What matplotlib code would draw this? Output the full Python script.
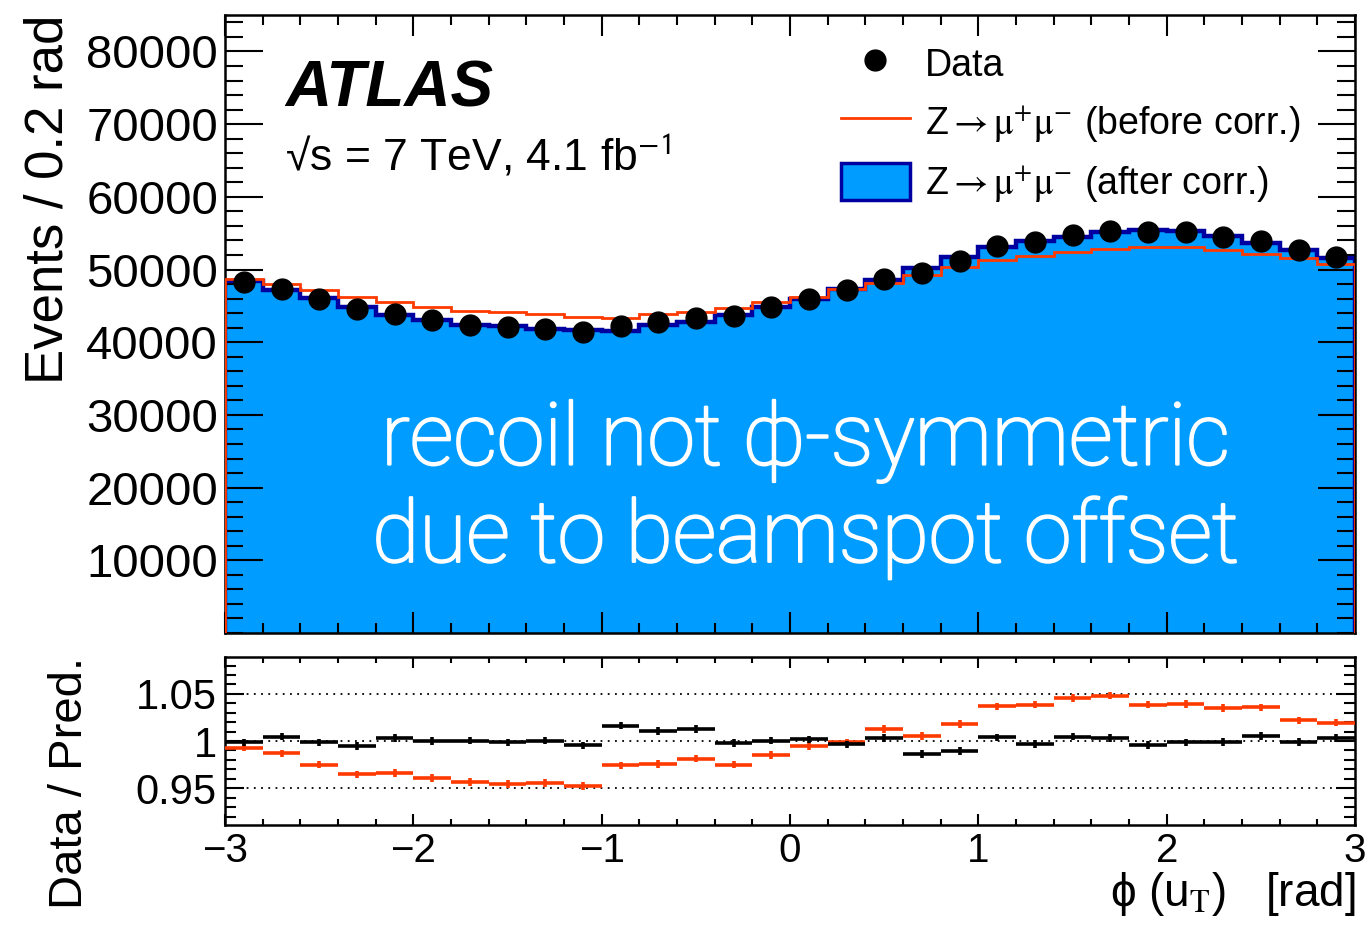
import numpy as np
import matplotlib
matplotlib.use('Agg')
import matplotlib.pyplot as plt
import matplotlib.patheffects as pe
from matplotlib.lines import Line2D
from matplotlib.patches import Patch
from matplotlib.ticker import MultipleLocator

plt.rcParams['font.family'] = ['Liberation Sans', 'DejaVu Sans']
plt.rcParams['mathtext.fontset'] = 'stix'

# bins in phi(u_T), 30 bins of 0.2 rad
edges = np.linspace(-3, 3, 31)
centers = 0.5*(edges[1:]+edges[:-1])

# data counts per bin
data = [48300, 47350, 45980, 44600, 43920, 43100, 42410, 42140, 41860, 41450,
        42270, 42820, 43370, 43640, 44880, 45980, 47210, 48720, 49550, 51190,
        53250, 53800, 54760, 55310, 55170, 55170, 54490, 53940, 52700, 51740]

# data / prediction, after correction (black) and before correction (red)
ratio_after = [0.9986, 1.0046, 0.9986, 0.9950, 1.0030, 1.0000, 1.0004, 0.9986, 1.0004, 0.9954,
               1.0164, 1.0107, 1.0129, 0.9979, 1.0004, 1.0018, 0.9964, 1.0030, 0.9864, 0.9896,
               1.0039, 0.9971, 1.0046, 1.0030, 0.9957, 0.9986, 0.9990, 1.0054, 0.9990, 1.0032]
ratio_before = [0.9929, 0.9868, 0.9750, 0.9646, 0.9660, 0.9610, 0.9564, 0.9543, 0.9554, 0.9525,
                0.9743, 0.9754, 0.9814, 0.9750, 0.9850, 0.9946, 0.9986, 1.0129, 1.0054, 1.0180,
                1.0368, 1.0386, 1.0457, 1.0482, 1.0386, 1.0393, 1.0350, 1.0357, 1.0218, 1.0196]
ratio_err = 0.004

data = np.array(data)
after = data/np.array(ratio_after)
before = data/np.array(ratio_before)

blue = '#009cff'
navy = '#0000a0'
red = '#ff3a00'

fig = plt.figure(figsize=(13.69, 9.42), dpi=100)
ax = fig.add_axes([0.1644, 0.328, 0.8254, 0.656])
axr = fig.add_axes([0.1644, 0.1242, 0.8254, 0.1783])

# main panel
ax.stairs(after, edges, fill=True, color=blue, zorder=1)
ax.stairs(after, edges, color=navy, lw=3.2, zorder=2)
ax.stairs(before, edges, color=red, lw=2.0, zorder=3)
ax.plot(centers, data, 'o', color='black', ms=15, zorder=5)

ax.set_xlim(-3, 3)
ax.set_ylim(0, 85000)
ax.set_yticks(np.arange(10000, 80001, 10000))
ax.yaxis.set_minor_locator(MultipleLocator(2000))
ax.xaxis.set_major_locator(MultipleLocator(1))
ax.xaxis.set_minor_locator(MultipleLocator(0.2))
ax.tick_params(axis='both', which='both', direction='in', top=True, right=True, width=1.5)
ax.tick_params(axis='y', which='major', length=27, labelsize=34, pad=5)
ax.tick_params(axis='y', which='minor', length=13)
ax.tick_params(axis='x', which='major', length=15, labelbottom=False)
ax.tick_params(axis='x', which='minor', length=7)
for s in ax.spines.values():
    s.set_linewidth(1.8)
ax.set_ylabel('Events / 0.2 rad', fontsize=38, loc='top')
ax.yaxis.set_label_coords(-0.134, 1.0)

ax.text(0.053, 0.88, 'ATLAS', transform=ax.transAxes, fontsize=46,
        fontweight='bold', style='italic', va='center')
ax.text(0.053, 0.772, '\u221as = 7 TeV, 4.1 fb$^{\\mathsf{-1}}$', transform=ax.transAxes,
        fontsize=32, va='center')

ax.text(0.514, 0.232, 'recoil not \u03d5-symmetric\ndue to beamspot offset',
        transform=ax.transAxes, fontsize=62, color='white', ha='center', va='center',
        family=['Roboto', 'DejaVu Sans'], fontweight='light', linespacing=1.22, zorder=4,
        path_effects=[pe.withStroke(linewidth=1.6, foreground='white')])

handles = [Line2D([], [], marker='o', ls='none', color='black', ms=15),
           Line2D([], [], color=red, lw=2.0),
           Patch(facecolor=blue, edgecolor=navy, lw=2.5)]
labels = ['Data',
          'Z$\\rightarrow\\mathrm{\\mu}^{+}\\mathrm{\\mu}^{-}$ (before corr.)',
          'Z$\\rightarrow\\mathrm{\\mu}^{+}\\mathrm{\\mu}^{-}$ (after corr.)']
leg = ax.legend(handles, labels, loc='upper right', bbox_to_anchor=(0.975, 0.995),
                frameon=False, fontsize=27, handlelength=1.85, handleheight=1.15,
                handletextpad=0.4, labelspacing=0.5, borderaxespad=0.3)

# ratio panel
for yv in [0.95, 1.0, 1.05]:
    axr.axhline(yv, color='black', ls=(0, (1, 3)), lw=1.3, zorder=1)
axr.errorbar(centers, ratio_before, xerr=0.1, yerr=ratio_err, fmt='none',
             ecolor=red, elinewidth=2.6, zorder=3)
axr.errorbar(centers, ratio_after, xerr=0.1, yerr=ratio_err, fmt='none',
             ecolor='black', elinewidth=2.6, zorder=4)
axr.set_xlim(-3, 3)
axr.set_ylim(0.911, 1.089)
axr.set_yticks([0.95, 1.0, 1.05])
axr.set_yticklabels(['0.95', '1', '1.05'])
axr.yaxis.set_minor_locator(MultipleLocator(0.01))
axr.set_xticks([-3, -2, -1, 0, 1, 2, 3])
axr.set_xticklabels(['\u22123', '\u22122', '\u22121', '0', '1', '2', '3'])
axr.xaxis.set_minor_locator(MultipleLocator(0.2))
axr.tick_params(axis='both', which='both', direction='in', top=True, right=True, width=1.5)
axr.tick_params(axis='y', which='major', length=14, labelsize=30, pad=6)
axr.tick_params(axis='y', which='minor', length=8)
axr.tick_params(axis='x', which='major', length=8, labelsize=29, pad=5)
axr.tick_params(axis='x', which='minor', length=4)
for s in axr.spines.values():
    s.set_linewidth(1.8)
axr.set_ylabel('Data / Pred.', fontsize=34, loc='top')
axr.yaxis.set_label_coords(-0.118, 1.0)
axr.set_xlabel('\u03d5 (u$_{\\mathrm{T}}$)   [rad]', fontsize=33, loc='right', labelpad=0)

fig.savefig('out.png', dpi=100)
